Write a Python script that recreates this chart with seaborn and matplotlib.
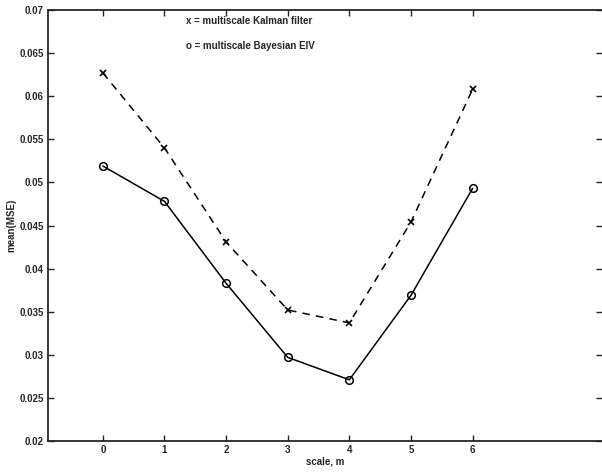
import matplotlib
matplotlib.use("Agg")
import matplotlib.pyplot as plt
import pandas as pd
import seaborn as sns

scales = [0, 1, 2, 3, 4, 5, 6]
kalman_mse = [0.0627, 0.0540, 0.0431, 0.0352, 0.0337, 0.0454, 0.0608]
eiv_mse = [0.0519, 0.0478, 0.0383, 0.0297, 0.0271, 0.0369, 0.0493]
y_ticks = [0.02, 0.025, 0.03, 0.035, 0.04, 0.045, 0.05, 0.055, 0.06, 0.065, 0.07]
y_tick_labels = ["0.02", "0.025", "0.03", "0.035", "0.04", "0.045",
                 "0.05", "0.055", "0.06", "0.065", "0.07"]

sns.set_style("ticks")
plt.rcParams["font.family"] = ["Liberation Sans", "DejaVu Sans"]
plt.rcParams["font.weight"] = "bold"

df = pd.DataFrame({"scale": scales, "kalman": kalman_mse, "eiv": eiv_mse})

fig = plt.figure(figsize=(6.02, 4.72), dpi=100)
ax = fig.add_axes([48 / 602, 31 / 472, 1 - 48 / 602, 431 / 472])

sns.lineplot(data=df, x="scale", y="kalman", ax=ax, color="black",
             linestyle=(0, (5, 4)), linewidth=1.1, marker="x",
             markersize=4.5, markeredgecolor="black", markeredgewidth=1.2)
sns.lineplot(data=df, x="scale", y="eiv", ax=ax, color="black",
             linestyle="-", linewidth=1.1, marker="o", markersize=5.5,
             markerfacecolor="none", markeredgecolor="black",
             markeredgewidth=1.1)

ax.set_xlim(-0.89, 8.1)
ax.set_ylim(0.02, 0.07)
ax.set_xticks(scales)
ax.set_yticks(y_ticks)
ax.set_yticklabels(y_tick_labels)
ax.tick_params(direction="in", length=4, width=1, labelsize=7,
               top=True, right=True, pad=3)
for side in ["left", "bottom", "top"]:
    ax.spines[side].set_linewidth(1.3)
ax.spines["right"].set_visible(False)

ax.set_xlabel("scale, m", fontsize=7, fontweight="bold", labelpad=1)
ax.set_ylabel("mean(MSE)", fontsize=7, fontweight="bold", labelpad=2)

ax.text(1.35, 0.0687, "x = multiscale Kalman filter", fontsize=7,
        fontweight="bold", va="center")
ax.text(1.35, 0.0658, "o = multiscale Bayesian EIV", fontsize=7,
        fontweight="bold", va="center")

fig.savefig("out.png", dpi=100)
